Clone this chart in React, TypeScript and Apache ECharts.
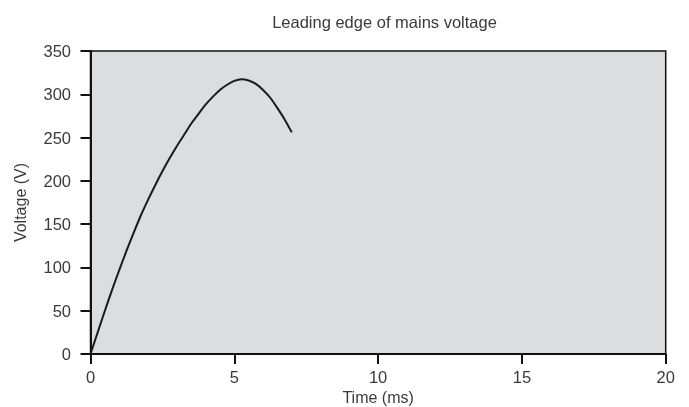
import React, { useEffect, useRef } from "react";
import * as echarts from "echarts";

const timeMs = [
  0, 0.25, 0.5, 0.75, 1, 1.25, 1.5, 1.75, 2, 2.25, 2.5, 2.75, 3, 3.25, 3.5, 3.75,
  4, 4.25, 4.5, 4.75, 5, 5.25, 5.5, 5.75, 6, 6.25, 6.5, 6.75, 7,
];
const voltage = [
  0, 25, 50, 74, 97, 119, 140, 160, 178, 195, 211, 226, 240, 253, 266, 277,
  288, 297, 305, 311, 315.5, 317.5, 316, 312, 305, 296, 284, 271, 256,
];
const xTicks = [0, 5, 10, 15, 20];
const yTicks = [0, 50, 100, 150, 200, 250, 300, 350];

export default function App() {
  const ref = useRef<HTMLDivElement>(null);
  useEffect(() => {
    if (!ref.current) return;
    const chart = echarts.init(ref.current, null, { renderer: "svg" });
    const font = "Liberation Sans, Arial, sans-serif";
    const txt = "#3a3a3a";
    chart.setOption({
      animation: false,
      title: {
        text: "Leading edge of mains voltage",
        left: 379.5,
        top: 8,
        textAlign: "center",
        textStyle: { fontFamily: font, fontSize: 16.5, fontWeight: "normal", color: txt },
      },
      grid: {
        left: 90.5,
        right: 23.3,
        top: 51,
        bottom: 53,
        outerBoundsMode: "none",
        containLabel: false,
        show: true,
        backgroundColor: "#dcdddf",
        borderColor: "#111",
        borderWidth: 1.5,
      },
      xAxis: {
        type: "value",
        min: xTicks[0],
        max: xTicks[xTicks.length - 1],
        interval: 5,
        name: "Time (ms)",
        nameLocation: "middle",
        nameGap: 34,
        nameTextStyle: { fontFamily: font, fontSize: 16, color: txt },
        axisLine: { show: true, onZero: false, lineStyle: { color: "#111", width: 2 } },
        axisTick: { show: true, length: 10, lineStyle: { color: "#111", width: 2 } },
        axisLabel: { fontFamily: font, fontSize: 16.5, color: txt, margin: 14 },
        splitLine: { show: false },
      },
      yAxis: {
        type: "value",
        min: yTicks[0],
        max: yTicks[yTicks.length - 1],
        interval: 50,
        name: "Voltage (V)",
        nameLocation: "middle",
        nameGap: 62,
        nameTextStyle: { fontFamily: font, fontSize: 16, color: txt },
        axisLine: { show: true, lineStyle: { color: "#111", width: 2 } },
        axisTick: { show: true, length: 10, lineStyle: { color: "#111", width: 2 } },
        axisLabel: { fontFamily: font, fontSize: 16.5, color: txt, margin: 19.5 },
        splitLine: { show: false },
      },
      series: [
        {
          type: "line",
          data: timeMs.map((t, i) => [t, voltage[i]]),
          smooth: 0.3,
          symbol: "none",
          lineStyle: { color: "#1a1a1a", width: 2 },
        },
      ],
    });
    return () => chart.dispose();
  }, []);
  return (
    <div
      ref={ref}
      style={{ position: "fixed", left: 0, top: 0, width: 689, height: 407 }}
    />
  );
}
